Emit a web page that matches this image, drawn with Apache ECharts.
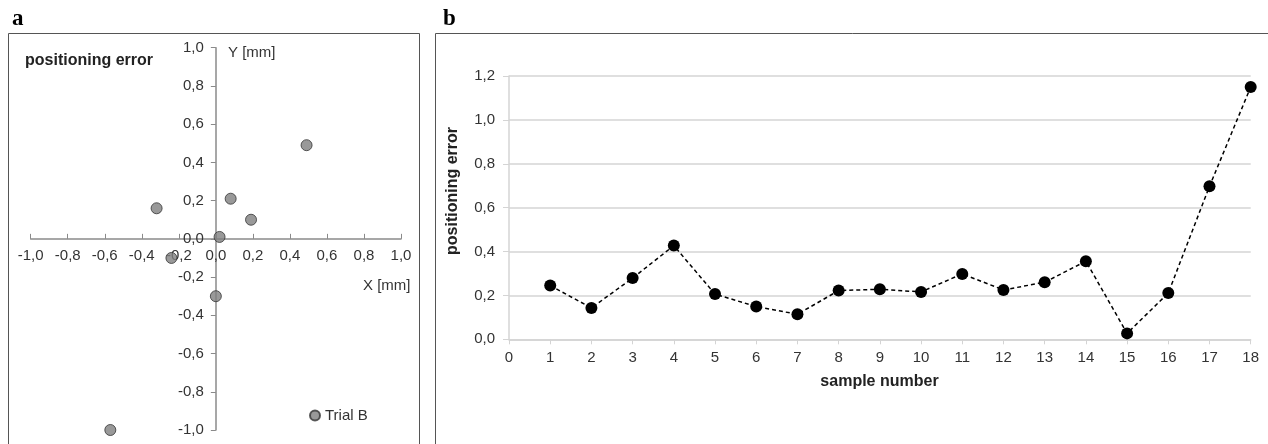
<!DOCTYPE html>
<html>
<head>
<meta charset="utf-8">
<script src="https://cdn.jsdelivr.net/npm/echarts@6/dist/echarts.min.js"></script>
<style>
html,body{margin:0;padding:0;background:#fff;}
#chart{width:1268px;height:444px;}
</style>
</head>
<body>
<div id="chart"></div>
<script>
// Panel a: positioning error scatter (Trial B)
const trialBX = [0.49, 0.08, 0.19, -0.32, 0.02, -0.24, 0.00, -0.57];
const trialBY = [0.49, 0.21, 0.10, 0.16, 0.01, -0.10, -0.30, -1.00];
// Panel b: positioning error per sample
const sampleNumbers = [1,2,3,4,5,6,7,8,9,10,11,12,13,14,15,16,17,18];
const positioningError = [0.245, 0.143, 0.279, 0.427, 0.206, 0.149, 0.114, 0.222, 0.228, 0.216, 0.298, 0.225, 0.260, 0.356, 0.027, 0.211, 0.697, 1.150];

const fmt = v => (Math.round(v*10)/10).toFixed(1).replace('.', ',').replace('-0,0','0,0');
const txt = '#333';
const font = 'Liberation Sans, Arial, sans-serif';
const gA = {left: 30.7, width: 370.3, top: 47.7, height: 382.3};

const chart = echarts.init(document.getElementById('chart'));
chart.setOption({
  animation: false,
  textStyle: {fontFamily: font},
  grid: [
    gA,
    {left: 509, width: 741.7, top: 76, height: 263.3}
  ],
  xAxis: [
    {type: 'value', gridIndex: 0, min: -1, max: 1, interval: 0.2,
     position: 'bottom', offset: -gA.height / 2,
     axisLine: {onZero: false, lineStyle: {color: '#8a8a8a', width: 1.5}},
     axisTick: {inside: true, length: 5, lineStyle: {color: '#8a8a8a'}},
     axisLabel: {formatter: fmt, color: txt, fontSize: 15, margin: 10},
     splitLine: {show: false}},
    {type: 'value', gridIndex: 1, min: 0, max: 18, interval: 1,
     axisLine: {lineStyle: {color: '#d4d4d4', width: 1.5}},
     axisTick: {length: 5, lineStyle: {color: '#d4d4d4'}},
     axisLabel: {color: txt, fontSize: 15, margin: 11},
     splitLine: {show: false}}
  ],
  yAxis: [
    {type: 'value', gridIndex: 0, min: -1, max: 1, interval: 0.2,
     position: 'left', offset: -gA.width / 2,
     axisLine: {show: true, onZero: false, lineStyle: {color: '#8a8a8a', width: 1.5}},
     axisTick: {show: true, length: 5, lineStyle: {color: '#8a8a8a'}},
     axisLabel: {formatter: fmt, color: txt, fontSize: 15, margin: 12},
     splitLine: {show: false}},
    {type: 'value', gridIndex: 1, min: 0, max: 1.2, interval: 0.2,
     axisLine: {show: true, lineStyle: {color: '#d4d4d4', width: 1.5}},
     axisTick: {show: true, length: 6, lineStyle: {color: '#d4d4d4'}},
     axisLabel: {formatter: fmt, color: txt, fontSize: 15, margin: 14},
     splitLine: {show: true, lineStyle: {color: '#d4d4d4', width: 1.5}}}
  ],
  legend: {
    data: ['Trial B'], left: 304, top: 403, icon: 'circle',
    itemWidth: 10, itemHeight: 10, itemGap: 5,
    textStyle: {color: txt, fontSize: 15, fontFamily: font}
  },
  series: [
    {name: 'Trial B', type: 'scatter', xAxisIndex: 0, yAxisIndex: 0,
     symbolSize: 11,
     itemStyle: {color: '#7f7f7f', borderColor: '#333', borderWidth: 1},
     data: trialBX.map((x, i) => [x, trialBY[i]])},
    {name: 'error', type: 'line', xAxisIndex: 1, yAxisIndex: 1,
     symbol: 'circle', symbolSize: 12,
     itemStyle: {color: '#000'},
     lineStyle: {color: '#000', width: 1.5, type: [4, 3]},
     data: sampleNumbers.map((s, i) => [s, positioningError[i]])}
  ],
  graphic: [
    {type: 'rect', shape: {x: 8.5, y: 33.5, width: 411, height: 430}, style: {fill: 'none', stroke: '#555', lineWidth: 1}},
    {type: 'rect', shape: {x: 435.5, y: 33.5, width: 900, height: 430}, style: {fill: 'none', stroke: '#555', lineWidth: 1}},
    {type: 'text', left: 12, top: 8, style: {text: 'a', font: 'bold 23px "Liberation Serif", serif', fill: '#000'}},
    {type: 'text', left: 443, top: 8, style: {text: 'b', font: 'bold 23px "Liberation Serif", serif', fill: '#000'}},
    {type: 'text', x: 25, y: 61, style: {text: 'positioning error', font: 'bold 16px ' + font, fill: '#222', verticalAlign: 'middle'}},
    {type: 'text', x: 228, y: 53, style: {text: 'Y [mm]', font: '15px ' + font, fill: txt, verticalAlign: 'middle'}},
    {type: 'text', x: 363, y: 286, style: {text: 'X [mm]', font: '15px ' + font, fill: txt, verticalAlign: 'middle'}},
    {type: 'text', x: 879.5, y: 382, style: {text: 'sample number', font: 'bold 16px ' + font, fill: '#222', align: 'center', verticalAlign: 'middle'}},
    {type: 'text', x: 453, y: 191, rotation: Math.PI/2, style: {text: 'positioning error', font: 'bold 16px ' + font, fill: '#222', align: 'center', verticalAlign: 'middle'}}
  ]
});
</script>
</body>
</html>
